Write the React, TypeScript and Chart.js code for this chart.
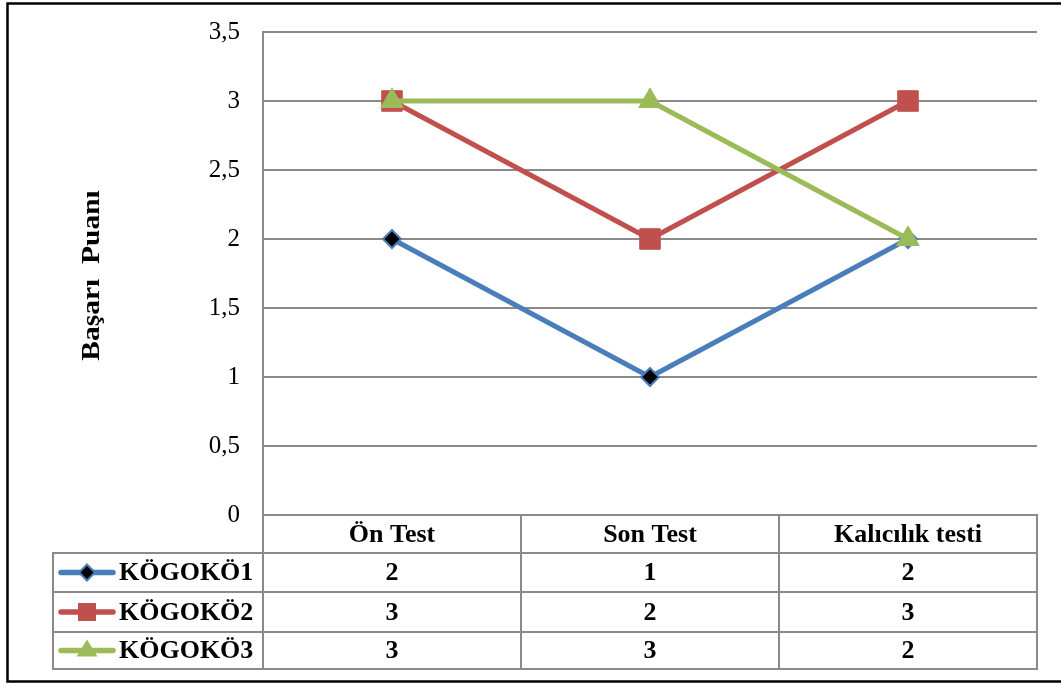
import React, { useEffect, useRef } from 'react';
import { Chart, registerables } from 'chart.js';

Chart.register(...registerables);

// Test stages shown along the horizontal axis and in the table header
const categories = ['Ön Test', 'Son Test', 'Kalıcılık testi'];
// Series names
const seriesNames = ['KÖGOKÖ1', 'KÖGOKÖ2', 'KÖGOKÖ3'];
// Scores per stage
const kogoko1 = [2, 1, 2];
const kogoko2 = [3, 2, 3];
const kogoko3 = [3, 3, 2];
// Value axis ticks
const yTicks = [0, 0.5, 1, 1.5, 2, 2.5, 3, 3.5];
const axisTitle = 'Başarı  Puanı';

const BLUE = '#4A7EBB';
const RED = '#C0504D';
const GREEN = '#9BBB59';
const GRID = '#8a8a8a';
const SERIF = "'Liberation Serif', 'Times New Roman', serif";

const seriesData = [kogoko1, kogoko2, kogoko3];

const fmt = (v: number) => String(v).replace('.', ',');

function drawMarker(ctx: CanvasRenderingContext2D, kind: number, x: number, y: number) {
  ctx.save();
  if (kind === 0) {
    const r = 8;
    ctx.beginPath();
    ctx.moveTo(x, y - r);
    ctx.lineTo(x + r, y);
    ctx.lineTo(x, y + r);
    ctx.lineTo(x - r, y);
    ctx.closePath();
    ctx.fillStyle = '#000';
    ctx.fill();
    ctx.lineWidth = 2;
    ctx.strokeStyle = BLUE;
    ctx.stroke();
  } else if (kind === 1) {
    ctx.fillStyle = RED;
    ctx.fillRect(x - 9, y - 9, 18, 18);
  } else {
    const r = 11;
    ctx.beginPath();
    ctx.moveTo(x, y - r);
    ctx.lineTo(x + r * 0.866 * 1.1, y + r * 0.55);
    ctx.lineTo(x - r * 0.866 * 1.1, y + r * 0.55);
    ctx.closePath();
    ctx.fillStyle = GREEN;
    ctx.fill();
  }
  ctx.restore();
}

// Data table under the plot, the axis title and the frame around everything
const tablePlugin = {
  id: 'dataTable',
  afterDraw(chart: any) {
    const { ctx, chartArea: a } = chart;
    const colW = (a.right - a.left) / categories.length;
    const top = a.bottom;
    const rows = [top, top + 38, top + 77, top + 117, top + 154];
    const legendLeft = 53;
    const colors = [BLUE, RED, GREEN];

    ctx.save();
    ctx.strokeStyle = GRID;
    ctx.lineWidth = 2;
    ctx.beginPath();
    // header row top (coincides with zero grid line)
    ctx.moveTo(a.left, rows[0]);
    ctx.lineTo(a.right + 1, rows[0]);
    for (let i = 1; i < rows.length; i++) {
      ctx.moveTo(legendLeft - 1, rows[i]);
      ctx.lineTo(a.right + 1, rows[i]);
    }
    // vertical rules
    ctx.moveTo(legendLeft, rows[1]);
    ctx.lineTo(legendLeft, rows[4]);
    ctx.moveTo(a.left, a.top);
    ctx.lineTo(a.left, rows[4]);
    for (let c = 1; c <= categories.length; c++) {
      const x = a.left + colW * c;
      ctx.moveTo(x, rows[0]);
      ctx.lineTo(x, rows[4]);
    }
    ctx.stroke();

    ctx.fillStyle = '#000';
    ctx.font = `bold 26px ${SERIF}`;
    ctx.textAlign = 'center';
    ctx.textBaseline = 'middle';
    categories.forEach((c, i) => {
      ctx.fillText(c, a.left + colW * (i + 0.5), (rows[0] + rows[1]) / 2 + 1);
    });
    seriesData.forEach((vals, r) => {
      const cy = (rows[r + 1] + rows[r + 2]) / 2 + 1;
      vals.forEach((v, i) => {
        ctx.fillText(fmt(v), a.left + colW * (i + 0.5), cy);
      });
      // legend key: line with marker
      ctx.save();
      ctx.strokeStyle = colors[r];
      ctx.lineWidth = 5.5;
      ctx.lineCap = 'round';
      ctx.beginPath();
      ctx.moveTo(61, cy - 1);
      ctx.lineTo(113, cy - 1);
      ctx.stroke();
      ctx.restore();
      drawMarker(ctx, r, 87, cy - 1);
      ctx.textAlign = 'left';
      ctx.fillText(seriesNames[r], 119, cy);
      ctx.textAlign = 'center';
    });

    // rotated axis title
    ctx.save();
    ctx.translate(93, (a.top + a.bottom) / 2 + 2);
    ctx.rotate(-Math.PI / 2);
    ctx.scale(1.18, 1);
    ctx.font = `bold 25px ${SERIF}`;
    ctx.textAlign = 'center';
    ctx.textBaseline = 'middle';
    ctx.fillText(axisTitle, 0, 0);
    ctx.restore();

    // outer frame
    ctx.strokeStyle = '#000';
    ctx.lineWidth = 2.5;
    ctx.strokeRect(7.5, 3.5, 1100, 678);
    ctx.restore();
  },
};

export default function App() {
  const ref = useRef<HTMLCanvasElement>(null);

  useEffect(() => {
    if (!ref.current) return;
    const chart = new Chart(ref.current, {
      type: 'line',
      data: {
        labels: categories,
        datasets: [
          {
            label: seriesNames[0],
            data: kogoko1,
            borderColor: BLUE,
            backgroundColor: '#000',
            borderWidth: 5,
            pointStyle: 'rectRot',
            pointRadius: 9,
            pointHoverRadius: 9,
            pointBackgroundColor: '#000',
            pointBorderColor: BLUE,
            pointBorderWidth: 2,
            borderJoinStyle: 'round',
            order: 3,
          },
          {
            label: seriesNames[1],
            data: kogoko2,
            borderColor: RED,
            backgroundColor: RED,
            borderWidth: 5,
            pointStyle: 'rect',
            pointRadius: 14.5,
            pointHoverRadius: 14.5,
            pointBackgroundColor: RED,
            pointBorderColor: RED,
            pointBorderWidth: 1,
            borderJoinStyle: 'round',
            order: 2,
          },
          {
            label: seriesNames[2],
            data: kogoko3,
            borderColor: GREEN,
            backgroundColor: GREEN,
            borderWidth: 5,
            pointStyle: 'triangle',
            pointRadius: 13,
            pointHoverRadius: 13,
            pointBackgroundColor: GREEN,
            pointBorderColor: GREEN,
            pointBorderWidth: 1,
            borderJoinStyle: 'round',
            order: 1,
          },
        ],
      },
      options: {
        responsive: false,
        animation: false,
        layout: { padding: { left: 0, right: 24, top: 32, bottom: 168 } },
        plugins: {
          legend: { display: false },
          tooltip: { enabled: false },
        },
        scales: {
          x: {
            type: 'category',
            offset: true,
            grid: { display: false },
            border: { display: false },
            ticks: { display: false },
            afterFit: (s: any) => {
              s.height = 0;
            },
          },
          y: {
            min: 0,
            max: 3.5,
            afterBuildTicks: (s: any) => {
              s.ticks = yTicks.map((v) => ({ value: v }));
            },
            afterFit: (s: any) => {
              s.width = 263;
              s.paddingTop = 0;
              s.paddingBottom = 0;
            },
            grid: { color: GRID, lineWidth: 2, drawTicks: false },
            border: { display: true, color: GRID, width: 2 },
            ticks: {
              padding: 23,
              color: '#000',
              font: { family: SERIF, size: 25 },
              callback: (v: any) => fmt(Number(v)),
            },
          },
        },
      },
      plugins: [tablePlugin],
    });
    return () => chart.destroy();
  }, []);

  return (
    <canvas
      ref={ref}
      width={1061}
      height={683}
      style={{ position: 'absolute', left: 0, top: 0, display: 'block' }}
    />
  );
}
